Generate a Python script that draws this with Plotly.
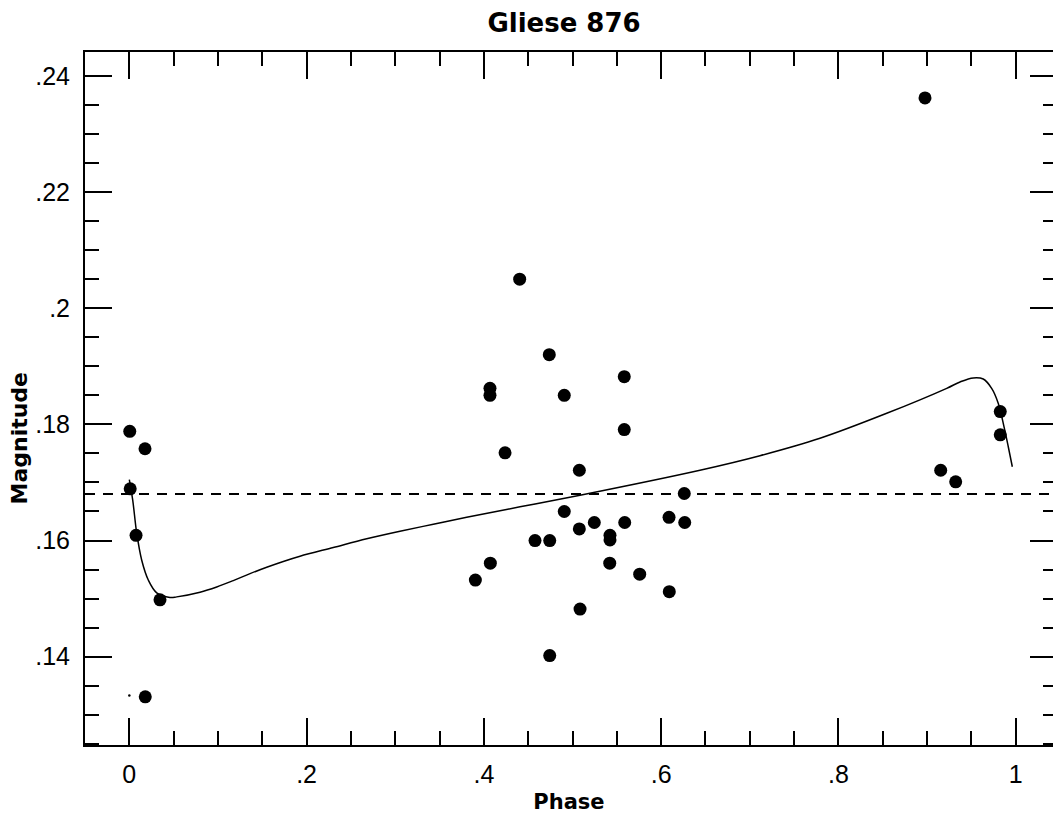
import plotly.graph_objects as go

# Observed photometry (phase, magnitude)
phase = [0.0005, 0.0177, 0.001, 0.0076, 0.0346, 0.018,
         0.4404, 0.4738, 0.4069, 0.4069, 0.4907, 0.4239,
         0.5584, 0.5584, 0.5077, 0.6261, 0.4907, 0.5246,
         0.5589, 0.6089, 0.6266, 0.5077, 0.5423, 0.5423,
         0.4577, 0.4743, 0.4073, 0.3904, 0.5420, 0.5758,
         0.6092, 0.5085, 0.4743,
         0.8977, 0.9826, 0.9826, 0.9154, 0.9323]
magnitude = [0.1788, 0.1758, 0.1689, 0.1609, 0.1498, 0.1331,
             0.2050, 0.1920, 0.1862, 0.1850, 0.1850, 0.1751,
             0.1882, 0.1791, 0.1721, 0.1681, 0.1650, 0.1631,
             0.1631, 0.1640, 0.1631, 0.1620, 0.1609, 0.1601,
             0.1600, 0.1600, 0.1561, 0.1532, 0.1561, 0.1542,
             0.1512, 0.1482, 0.1402,
             0.2362, 0.1822, 0.1782, 0.1721, 0.1701]

# Faint single point near phase zero
faint_phase = [0.0]
faint_mag = [0.1333]

# Model light curve
model_phase = [0.0, 0.0038, 0.0083, 0.0140, 0.0214, 0.0309, 0.0459, 0.0535,
               0.0798, 0.0986, 0.1173, 0.1362, 0.1550, 0.1737, 0.1926, 0.2301,
               0.2678, 0.3054, 0.3430, 0.3806, 0.4408, 0.5085, 0.6438, 0.7115,
               0.7792, 0.8545, 0.9222, 0.9372, 0.9522, 0.9634, 0.9729, 0.9804,
               0.9868, 0.9917, 0.9962]
model_mag = [0.1705, 0.1670, 0.1613, 0.1566, 0.1532, 0.1510, 0.1502, 0.1503,
             0.1511, 0.1520, 0.1531, 0.1543, 0.1554, 0.1564, 0.1573, 0.1588,
             0.1603, 0.1616, 0.1628, 0.1640, 0.1658, 0.1678, 0.1721, 0.1746,
             0.1776, 0.1819, 0.1862, 0.1873, 0.1880, 0.1878, 0.1862, 0.1836,
             0.1796, 0.1761, 0.1727]

mean_mag = 0.168

x_ticks = [0, 0.2, 0.4, 0.6, 0.8, 1.0]
x_labels = ["0", ".2", ".4", ".6", ".8", "1"]
y_ticks = [0.14, 0.16, 0.18, 0.20, 0.22, 0.24]
y_labels = [".14", ".16", ".18", ".2", ".22", ".24"]

x_range = [-0.05, 1.0421]
y_range = [0.1248, 0.2441]

label_font = dict(family="Liberation Sans, Arial, sans-serif", size=25, color="black")
bold_family = "DejaVu Sans, Verdana, sans-serif"

fig = go.Figure()

fig.add_trace(go.Scatter(
    x=model_phase, y=model_mag, mode="lines",
    line=dict(color="black", width=1.5, shape="spline", smoothing=1.0),
    hoverinfo="skip", showlegend=False,
))
# data points sit on the right-hand axis (same range) so its ticks are drawn
fig.add_trace(go.Scatter(
    x=phase, y=magnitude, mode="markers", yaxis="y2",
    marker=dict(color="black", size=13, line=dict(width=0)),
    showlegend=False,
))
fig.add_trace(go.Scatter(
    x=faint_phase, y=faint_mag, mode="markers",
    marker=dict(color="black", size=2.5, line=dict(width=0)),
    showlegend=False,
))

fig.add_hline(y=mean_mag, line=dict(color="black", width=2, dash="10px,8px"))

# Vertical axis title
fig.add_annotation(
    text="<b>Magnitude</b>", textangle=-90, showarrow=False,
    xref="paper", yref="paper", x=(19 - 85) / 968, y=1 - (438.5 - 52) / 693,
    xanchor="center", yanchor="middle",
    font=dict(family=bold_family, size=22, color="black"),
)

minor_y = dict(ticks="inside", tickwidth=2, tickcolor="black",
               tick0=0, dtick=0.005, showgrid=False)

fig.update_layout(
    width=1053, height=814,
    margin=dict(l=85, r=0, t=52, b=69),
    paper_bgcolor="white", plot_bgcolor="white",
    title=dict(text="<b>Gliese 876</b>", font=dict(family=bold_family, size=26, color="black"),
               x=564 / 1053, xanchor="center", xref="container",
               y=1 - 23 / 814, yanchor="middle", yref="container"),
    xaxis=dict(
        range=x_range, showgrid=False, zeroline=False,
        showline=True, linecolor="black", linewidth=2, mirror="ticks",
        ticklen=27, ticks="inside", tickwidth=2, tickcolor="black",
        tickvals=x_ticks, ticktext=x_labels, tickfont=label_font,
        ticklabelstandoff=6,
        minor=dict(ticks="inside", ticklen=14, tickwidth=2, tickcolor="black",
                   tick0=0, dtick=0.05, showgrid=False),
        title=dict(text="<b>Phase</b>", font=dict(family=bold_family, size=21, color="black"),
                   standoff=11),
    ),
    yaxis=dict(
        range=y_range, showgrid=False, zeroline=False,
        showline=True, linecolor="black", linewidth=2, mirror=False,
        ticklen=27, ticks="inside", tickwidth=2, tickcolor="black",
        tickvals=y_ticks, ticktext=y_labels, tickfont=label_font,
        ticklabelstandoff=8,
        minor=dict(ticklen=14, **minor_y),
    ),
    # right-hand tick marks, no axis line
    yaxis2=dict(
        range=y_range, overlaying="y", side="right", anchor="x",
        showgrid=False, zeroline=False, showline=False,
        ticklen=23, ticks="inside", tickwidth=2, tickcolor="black",
        tickvals=y_ticks, showticklabels=False,
        minor=dict(ticklen=10, **minor_y),
    ),
)

fig.write_html("out.html")
